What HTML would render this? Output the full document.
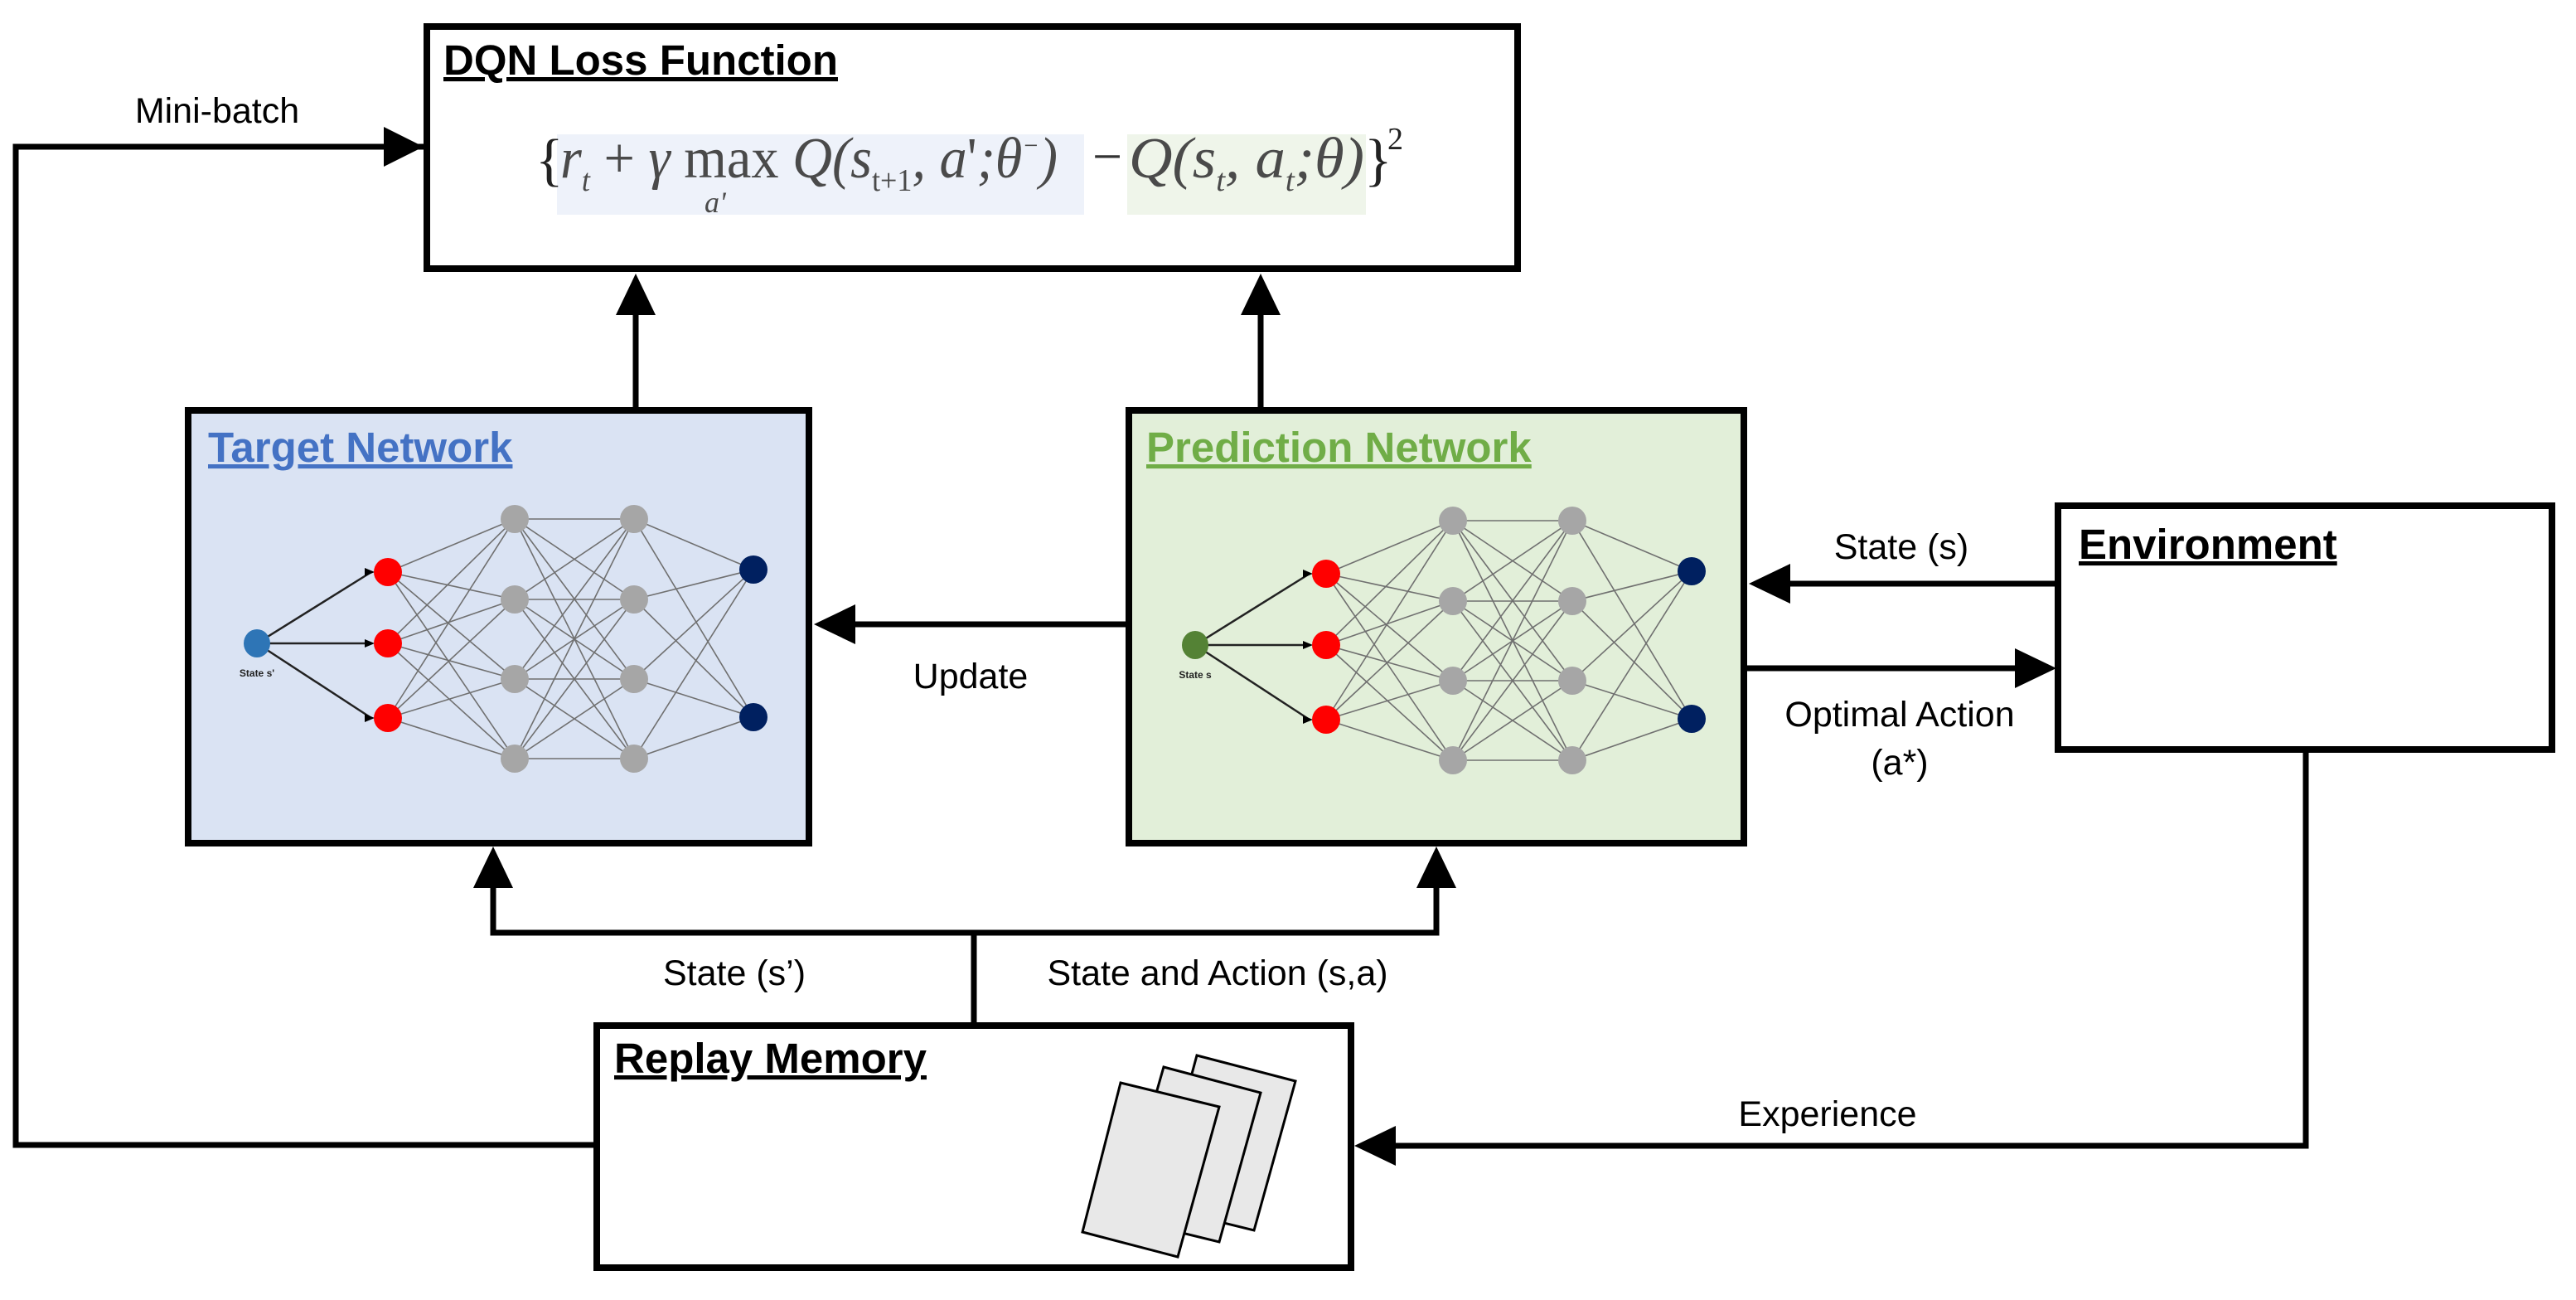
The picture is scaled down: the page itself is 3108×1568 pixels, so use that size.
<!DOCTYPE html>
<html><head><meta charset="utf-8"><style>
html,body{margin:0;padding:0;background:#fff;}
svg{display:block;}
text{font-family:"Liberation Sans",sans-serif;}
.lbl{font-size:43px;fill:#000;}
.ttl{font-size:51px;font-weight:bold;text-decoration:underline;}
.f{font-family:"Liberation Serif",serif;font-style:italic;fill:#4a4a4a;}
</style></head><body>
<svg width="3108" height="1568" viewBox="0 0 3108 1568" xmlns="http://www.w3.org/2000/svg">
<defs>
<g id="net">
 <g stroke="#707070" stroke-width="1.6">
  <line x1="468" y1="690" x2="621" y2="626"/><line x1="468" y1="690" x2="621" y2="723"/><line x1="468" y1="690" x2="621" y2="819"/><line x1="468" y1="690" x2="621" y2="915"/>
  <line x1="468" y1="776" x2="621" y2="626"/><line x1="468" y1="776" x2="621" y2="723"/><line x1="468" y1="776" x2="621" y2="819"/><line x1="468" y1="776" x2="621" y2="915"/>
  <line x1="468" y1="866" x2="621" y2="626"/><line x1="468" y1="866" x2="621" y2="723"/><line x1="468" y1="866" x2="621" y2="819"/><line x1="468" y1="866" x2="621" y2="915"/>
  <line x1="621" y1="626" x2="765" y2="626"/><line x1="621" y1="626" x2="765" y2="723"/><line x1="621" y1="626" x2="765" y2="819"/><line x1="621" y1="626" x2="765" y2="915"/>
  <line x1="621" y1="723" x2="765" y2="626"/><line x1="621" y1="723" x2="765" y2="723"/><line x1="621" y1="723" x2="765" y2="819"/><line x1="621" y1="723" x2="765" y2="915"/>
  <line x1="621" y1="819" x2="765" y2="626"/><line x1="621" y1="819" x2="765" y2="723"/><line x1="621" y1="819" x2="765" y2="819"/><line x1="621" y1="819" x2="765" y2="915"/>
  <line x1="621" y1="915" x2="765" y2="626"/><line x1="621" y1="915" x2="765" y2="723"/><line x1="621" y1="915" x2="765" y2="819"/><line x1="621" y1="915" x2="765" y2="915"/>
  <line x1="765" y1="626" x2="909" y2="687"/><line x1="765" y1="626" x2="909" y2="865"/>
  <line x1="765" y1="723" x2="909" y2="687"/><line x1="765" y1="723" x2="909" y2="865"/>
  <line x1="765" y1="819" x2="909" y2="687"/><line x1="765" y1="819" x2="909" y2="865"/>
  <line x1="765" y1="915" x2="909" y2="687"/><line x1="765" y1="915" x2="909" y2="865"/>
 </g>
 <g stroke="#222" stroke-width="2.5">
  <line x1="310" y1="776" x2="448" y2="690"/><line x1="310" y1="776" x2="448" y2="776"/><line x1="310" y1="776" x2="448" y2="866"/>
 </g>
 <g fill="#000">
  <polygon points="452,690 440,685 440,695"/><polygon points="452,776 440,771 440,781"/><polygon points="452,866 440,861 440,871"/>
 </g>
 <g fill="#ff0000"><ellipse cx="468" cy="690" rx="17" ry="17"/><ellipse cx="468" cy="776" rx="17" ry="17"/><ellipse cx="468" cy="866" rx="17" ry="17"/></g>
 <g fill="#a6a6a6">
  <ellipse cx="621" cy="626" rx="17" ry="17"/><ellipse cx="621" cy="723" rx="17" ry="17"/><ellipse cx="621" cy="819" rx="17" ry="17"/><ellipse cx="621" cy="915" rx="17" ry="17"/>
  <ellipse cx="765" cy="626" rx="17" ry="17"/><ellipse cx="765" cy="723" rx="17" ry="17"/><ellipse cx="765" cy="819" rx="17" ry="17"/><ellipse cx="765" cy="915" rx="17" ry="17"/>
 </g>
 <g fill="#002060"><ellipse cx="909" cy="687" rx="17" ry="17"/><ellipse cx="909" cy="865" rx="17" ry="17"/></g>
</g>
</defs>
<!-- Loss box -->
<rect x="515" y="32" width="1316" height="292" fill="#fff" stroke="#000" stroke-width="8"/>
<text x="535" y="90" class="ttl">DQN Loss Function</text>
<rect x="672" y="162" width="636" height="97" fill="#eef2fa"/>
<rect x="1360" y="162" width="288" height="97" fill="#eff5ea"/>
<text x="646" y="216" font-size="70" fill="#222" style="font-family:'Liberation Serif',serif">{</text>
<text x="676" y="214" class="f" font-size="70" textLength="600" lengthAdjust="spacingAndGlyphs">r<tspan font-size="38" dy="16">t</tspan><tspan dy="-16" style="font-style:normal"> + </tspan>γ <tspan style="font-style:normal">max</tspan> Q(s<tspan font-size="38" dy="16" style="font-style:normal">t+1</tspan><tspan dy="-16">, a</tspan><tspan style="font-style:normal">'</tspan>;θ<tspan font-size="32" dy="-28">−</tspan><tspan dy="28">)</tspan></text>
<text x="850" y="256" font-size="36" class="f">a'</text>
<text x="1318" y="210" font-size="64" fill="#333" style="font-family:'Liberation Serif',serif">−</text>
<text x="1362" y="214" class="f" font-size="70" fill="#6a6a6a" textLength="284" lengthAdjust="spacingAndGlyphs">Q(s<tspan font-size="38" dy="16">t</tspan><tspan dy="-16">, a</tspan><tspan font-size="38" dy="16">t</tspan><tspan dy="-16">;θ)</tspan></text>
<text x="1646" y="216" font-size="70" fill="#222" style="font-family:'Liberation Serif',serif">}</text>
<text x="1674" y="180" font-size="38" fill="#222" style="font-family:'Liberation Serif',serif">2</text>

<!-- Mini-batch connector -->
<polyline points="511,177 19,177 19,1381 716,1381" fill="none" stroke="#000" stroke-width="7"/>
<polygon points="511,177 463,153 463,201" fill="#000"/>
<text x="262" y="148" class="lbl" text-anchor="middle">Mini-batch</text>

<!-- up arrows to loss -->
<line x1="767" y1="491" x2="767" y2="370" stroke="#000" stroke-width="7"/>
<polygon points="767,330 743,380 791,380" fill="#000"/>
<line x1="1521" y1="491" x2="1521" y2="370" stroke="#000" stroke-width="7"/>
<polygon points="1521,330 1497,380 1545,380" fill="#000"/>

<!-- Target box -->
<rect x="227" y="495" width="749" height="522" fill="#dae3f3" stroke="#000" stroke-width="8"/>
<text x="251" y="557" class="ttl" fill="#4472c4">Target Network</text>
<!-- Prediction box -->
<rect x="1362" y="495" width="742" height="522" fill="#e2efd9" stroke="#000" stroke-width="8"/>
<text x="1383" y="557" class="ttl" fill="#70ad47">Prediction Network</text>

<use href="#net"/>
<text x="310" y="816" font-size="12" font-weight="bold" text-anchor="middle" fill="#222">State s'</text>
<use href="#net" transform="translate(1132,2)"/>
<text x="1442" y="818" font-size="12" font-weight="bold" text-anchor="middle" fill="#222">State s</text>
<ellipse cx="310" cy="776" rx="16" ry="17" fill="#2e75b6"/>
<ellipse cx="1442" cy="778" rx="16" ry="17" fill="#548235"/>

<!-- Update -->
<line x1="1358" y1="753" x2="1030" y2="753" stroke="#000" stroke-width="7"/>
<polygon points="982,753 1032,729 1032,777" fill="#000"/>
<text x="1171" y="830" class="lbl" text-anchor="middle">Update</text>

<!-- Environment -->
<rect x="2483" y="610" width="596" height="294" fill="#fff" stroke="#000" stroke-width="8"/>
<text x="2508" y="674" class="ttl" fill="#000">Environment</text>
<line x1="2479" y1="704" x2="2155" y2="704" stroke="#000" stroke-width="7"/>
<polygon points="2110,704 2160,680 2160,728" fill="#000"/>
<text x="2294" y="674" class="lbl" text-anchor="middle">State (s)</text>
<line x1="2107" y1="806" x2="2435" y2="806" stroke="#000" stroke-width="7"/>
<polygon points="2481,806 2431,782 2431,830" fill="#000"/>
<text x="2292" y="876" class="lbl" text-anchor="middle">Optimal Action</text>
<text x="2292" y="934" class="lbl" text-anchor="middle">(a*)</text>

<!-- Experience -->
<polyline points="2782,907 2782,1382 1680,1382" fill="none" stroke="#000" stroke-width="7"/>
<polygon points="1634,1382 1684,1358 1684,1406" fill="#000"/>
<text x="2205" y="1358" class="lbl" text-anchor="middle">Experience</text>

<!-- replay to networks -->
<polyline points="1175,1233 1175,1125" fill="none" stroke="#000" stroke-width="7"/>
<polyline points="595,1065 595,1125 1733,1125 1733,1065" fill="none" stroke="#000" stroke-width="7"/>
<polygon points="595,1021 571,1071 619,1071" fill="#000"/>
<polygon points="1733,1021 1709,1071 1757,1071" fill="#000"/>
<text x="886" y="1188" class="lbl" text-anchor="middle">State (s’)</text>
<text x="1469" y="1188" class="lbl" text-anchor="middle">State and Action (s,a)</text>

<!-- Replay Memory -->
<rect x="720" y="1237" width="910" height="292" fill="#fff" stroke="#000" stroke-width="8"/>
<text x="741" y="1294" class="ttl" fill="#000">Replay Memory</text>
<g fill="#e8e8e8" stroke="#000" stroke-width="3">
<polygon points="1444,1273 1563,1304 1513,1484 1395,1455"/>
<polygon points="1404,1287 1521,1318 1471,1498 1352,1469"/>
<polygon points="1352,1306 1471,1335 1421,1516 1306,1486"/>
</g>
</svg>
</body></html>
